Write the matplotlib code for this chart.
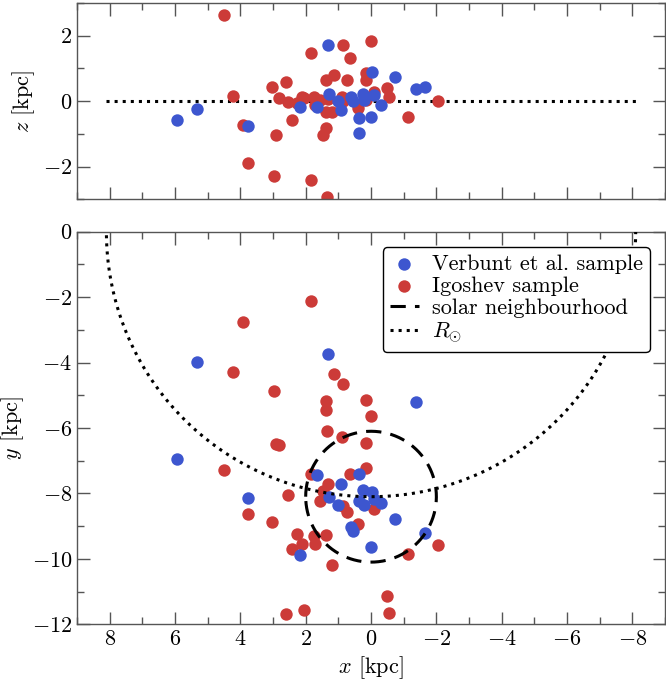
import numpy as np
import matplotlib
matplotlib.use("Agg")
import matplotlib.pyplot as plt

plt.rcParams["font.family"] = "serif"
plt.rcParams["font.serif"] = ["cmr10"]
plt.rcParams["mathtext.fontset"] = "cm"
plt.rcParams["axes.formatter.use_mathtext"] = True
plt.rcParams["font.size"] = 16

# --------------------------------------------------------------
# Data (kpc)
# --------------------------------------------------------------
verbunt_x = [5.34, 1.33, -1.39, 5.95, 1.66, 0.38, 0.91, 0.26, -0.02, 1.29, 0.36,
             0.20, -0.10, -0.30, 1.02, 3.76, -0.72, 0.61, 0.54, -1.65, -0.01, 2.16]
verbunt_y = [-3.97, -3.75, -5.21, -6.96, -7.45, -7.42, -7.70, -7.88, -7.96, -8.10, -8.23,
             -8.36, -8.18, -8.28, -8.36, -8.14, -8.79, -9.04, -9.15, -9.22, -9.65, -9.88]
verbunt_z = [-0.24, 1.71, 0.36, -0.58, -0.17, -0.98, -0.27, 0.23, 0.89, 0.23, -0.53,
             0.05, 0.18, -0.12, 0.00, -0.75, 0.74, 0.13, 0.00, 0.44, -0.48, -0.17]

igoshev_x = [1.83, 3.92, 4.21, 2.98, 1.13, 0.85, 1.37, 1.37, 0.15, 0.00, 1.34,
             0.88, 2.92, 2.82, 0.15, 4.49, 0.15, 1.83, 0.63, 1.32, 1.48, 2.54,
             1.55, 0.87, 0.74, -0.10, 3.77, 3.03, 0.41, 2.27, 1.76, 1.37, 1.71,
             2.12, 2.41, -1.12, -2.04, 1.19, -0.49, -0.56, 2.59, 2.05]
igoshev_y = [-2.13, -2.77, -4.28, -4.86, -4.34, -4.66, -5.17, -5.46, -5.13, -5.63, -6.09,
             -6.26, -6.50, -6.52, -6.47, -7.27, -7.23, -7.42, -7.42, -7.72, -7.93, -8.06,
             -8.23, -8.38, -8.57, -8.48, -8.62, -8.87, -8.92, -9.23, -9.30, -9.28, -9.55,
             -9.55, -9.70, -9.86, -9.58, -10.19, -11.13, -11.66, -11.70, -11.57]
igoshev_z = [1.47, -0.73, 0.16, -2.28, 0.79, 1.73, 0.64, -0.83, 0.87, 1.84, -2.94,
             0.13, -1.02, 0.10, 0.64, 2.62, 0.05, -2.41, 1.32, 0.08, -1.04, -0.02,
             0.05, 0.00, 0.64, 0.28, -1.90, 0.44, -0.22, -0.07, 0.13, -0.33, -0.12,
             0.13, -0.58, -0.48, 0.01, -0.33, 0.39, 0.13, 0.59, 0.10]

R_sun = 8.1
r_neigh = 2.0

blue = "#3d56cf"
red = "#cc3b38"
spine_col = "#555555"

fig = plt.figure(figsize=(6.66, 6.87), dpi=100)
ax_z = fig.add_axes([0.1156, 0.7099, 0.883, 0.2857])
ax_y = fig.add_axes([0.1156, 0.0913, 0.883, 0.5714])


def style_axis(ax):
    ax.set_xlim(9, -9)
    ax.set_xticks(np.arange(-8, 9, 2))
    ax.set_xticks(np.arange(-9, 10, 1), minor=True)
    ax.tick_params(which="both", direction="in", top=True, right=True,
                   color=spine_col, width=1.0)
    ax.tick_params(which="major", length=9)
    ax.tick_params(which="minor", length=5)
    for s in ax.spines.values():
        s.set_color(spine_col)
        s.set_linewidth(1.0)


# --------------------------------------------------------------
# Top panel: z vs x
# --------------------------------------------------------------
ax_z.plot([R_sun, -R_sun], [0, 0], ":", color="black", lw=2.2, zorder=1)
ax_z.scatter(verbunt_x, verbunt_z, s=80, color=blue, lw=0, zorder=3)
ax_z.scatter(igoshev_x, igoshev_z, s=80, color=red, lw=0, zorder=2)
ax_z.set_ylim(-3, 3)
ax_z.set_yticks([-2, 0, 2])
ax_z.set_yticks(np.arange(-3, 4, 1), minor=True)
style_axis(ax_z)
ax_z.set_xticklabels([])
ax_z.set_ylabel("$z$ [kpc]")

# --------------------------------------------------------------
# Bottom panel: y vs x
# --------------------------------------------------------------
t = np.linspace(0, 2 * np.pi, 500)
ax_y.scatter(verbunt_x, verbunt_y, s=80, color=blue, lw=0, zorder=3,
             label="Verbunt et al. sample")
ax_y.scatter(igoshev_x, igoshev_y, s=80, color=red, lw=0, zorder=2,
             label="Igoshev sample")
ax_y.plot(r_neigh * np.cos(t), -R_sun + r_neigh * np.sin(t), "--", color="black",
          lw=2.2, dashes=(5, 3), zorder=4, label="solar neighbourhood")
ax_y.plot(R_sun * np.cos(t), R_sun * np.sin(t), ":", color="black", lw=2.2,
          zorder=4, label=r"$R_{\odot}$")
ax_y.set_ylim(-12, 0)
ax_y.set_yticks(np.arange(-12, 1, 2))
ax_y.set_yticks(np.arange(-12, 1, 1), minor=True)
style_axis(ax_y)
ax_y.set_xlabel("$x$ [kpc]")
ax_y.set_ylabel("$y$ [kpc]")

leg = ax_y.legend(loc="upper right", fontsize=16, framealpha=1, fancybox=True,
                  handlelength=1.3, handletextpad=0.6, borderaxespad=0.7,
                  labelspacing=0.12, borderpad=0.3)
leg.get_frame().set_edgecolor("black")
leg.get_frame().set_linewidth(1.0)

fig.savefig("out.png", dpi=100)
